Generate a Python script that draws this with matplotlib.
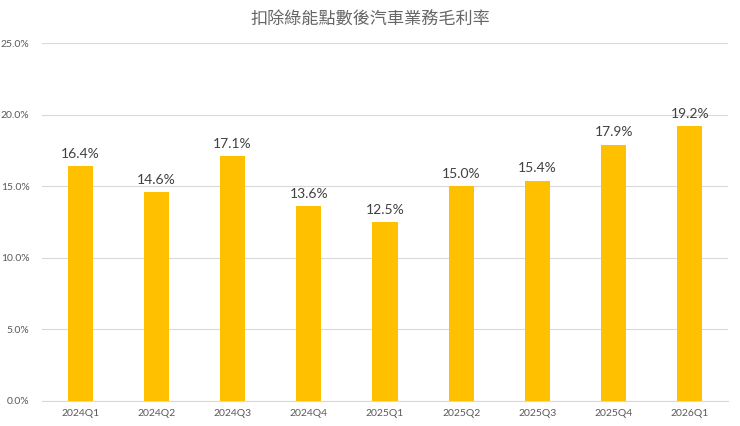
import matplotlib
matplotlib.use("Agg")
import matplotlib.pyplot as plt
from matplotlib.ticker import FuncFormatter

plt.rcParams['font.family'] = ['Lato', 'Noto Sans CJK TC', 'DejaVu Sans']

categories = ["2024Q1", "2024Q2", "2024Q3", "2024Q4", "2025Q1",
              "2025Q2", "2025Q3", "2025Q4", "2026Q1"]
margins = [16.4, 14.6, 17.1, 13.6, 12.5, 15.0, 15.4, 17.9, 19.2]
yticks = [0, 5, 10, 15, 20, 25]
title = "扣除綠能點數後汽車業務毛利率"

fig = plt.figure(figsize=(7.4, 4.26), dpi=100)
ax = fig.add_axes([0.0568, 0.0587, 0.927, 0.840])

x = list(range(len(categories)))
ax.bar(x, margins, width=0.33, color="#FFC000", zorder=3)
for xi, v in zip(x, margins):
    ax.text(xi, v + 0.45, f"{v:.1f}%", ha="center", va="bottom",
            fontsize=10, color="#404040")

ax.set_xlim(-0.5, len(categories) - 0.5)
ax.set_ylim(0, 25)
ax.set_yticks(yticks)
ax.yaxis.set_major_formatter(FuncFormatter(lambda v, p: f"{v:.1f}%"))
ax.set_xticks(x)
ax.set_xticklabels(categories)
ax.tick_params(axis="both", length=0, labelsize=7.5, colors="#595959")
ax.tick_params(axis="x", pad=6)
ax.tick_params(axis="y", pad=9)
ax.grid(axis="y", color="#D9D9D9", linewidth=0.8, zorder=0)
for s in ["top", "right", "left"]:
    ax.spines[s].set_visible(False)
ax.spines["bottom"].set_color("#D9D9D9")

fig.text(0.5, 0.955, title, ha="center", va="center", fontsize=12.3,
         color="#666666", family=['Noto Sans CJK TC', 'DejaVu Sans'],
         fontweight='light')

fig.savefig("out.png", dpi=100, facecolor="white")
